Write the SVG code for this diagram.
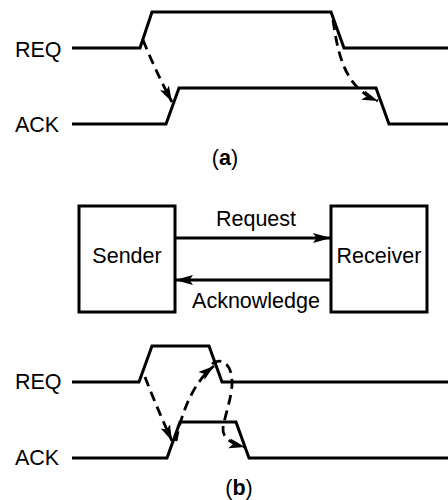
<svg xmlns="http://www.w3.org/2000/svg" width="448" height="500" viewBox="0 0 448 500">
  <style>
    .sig { fill: none; stroke: #000; stroke-width: 3; stroke-linejoin: miter; }
    .box { fill: #fff; stroke: #000; stroke-width: 3; }
    .link { fill: none; stroke: #000; stroke-width: 3; }
    .dash { fill: none; stroke: #000; stroke-width: 2.8; stroke-dasharray: 10 6; }
    text { font-family: "Liberation Sans", Arial, Helvetica, sans-serif; font-size: 21.5px; fill: #000; }
    .mid { text-anchor: middle; }
  </style>
  <defs>
    <marker id="head" viewBox="0 0 17 11" refX="16" refY="5.5" markerWidth="17" markerHeight="11" markerUnits="userSpaceOnUse" orient="auto">
      <path d="M0,0.5 L16,5.5 L0,10.5 L3.5,5.5 z" fill="#000"/>
    </marker>
    <marker id="bighead" viewBox="0 0 19 11" refX="18" refY="5.5" markerWidth="19" markerHeight="11" markerUnits="userSpaceOnUse" orient="auto">
      <path d="M0,0.5 L18,5.5 L0,10.5 L3.5,5.5 z" fill="#000"/>
    </marker>
  </defs>

  <!-- (a) four-phase handshake timing -->
  <g id="timing-a">
    <text x="15" y="57">REQ</text>
    <text x="15" y="132">ACK</text>
    <path class="sig" d="M72,48 L140,48 L152,12 L331,12 L344,48 L448,48"/>
    <path class="sig" d="M72,124 L166,124 L179,88 L376,88 L389,124 L448,124"/>
    <text class="mid" x="225" y="165">(<tspan font-weight="bold">a</tspan>)</text>
  </g>

  <!-- (b) sender / receiver blocks -->
  <g id="sender">
    <rect class="box" x="79" y="206" width="96" height="106"/>
    <text class="mid" x="127" y="263">Sender</text>
  </g>
  <g id="receiver">
    <rect class="box" x="331" y="206" width="96" height="106"/>
    <text class="mid" x="379" y="263">Receiver</text>
  </g>

  <!-- (b) two-phase handshake timing -->
  <g id="timing-b">
    <text x="15" y="389">REQ</text>
    <text x="15" y="465">ACK</text>
    <path class="sig" d="M72,382 L139,382 L152,346 L209,346 L222,382 L448,382"/>
    <path class="sig" d="M72,458 L167,458 L180,422 L236,422 L249,458 L448,458"/>
    <text class="mid" x="239" y="495">(<tspan font-weight="bold">b</tspan>)</text>
  </g>

  <!-- connectors -->
  <g id="connectors">
    <path class="link" d="M175,238 L331,238" marker-end="url(#bighead)"/>
    <text class="mid" x="256" y="226">Request</text>
    <path class="link" d="M331,280 L175,280" marker-end="url(#bighead)"/>
    <text class="mid" x="256" y="308">Acknowledge</text>

    <path class="dash" d="M143,40 Q156,72 172,102" marker-end="url(#head)"/>
    <path class="dash" d="M333,20 C338,55 345,88 378,101" marker-end="url(#head)"/>

    <path class="dash" d="M145,377 Q157,408 172,441" marker-end="url(#head)"/>
    <path class="dash" d="M176,441 C180,420 190,385 214,366" marker-end="url(#head)"/>
    <path class="dash" d="M212,364 C220,357 233,362 232,385 C231,400 225,415 223,428 C222,438 232,444 245,447" marker-end="url(#head)"/>
  </g>
</svg>
